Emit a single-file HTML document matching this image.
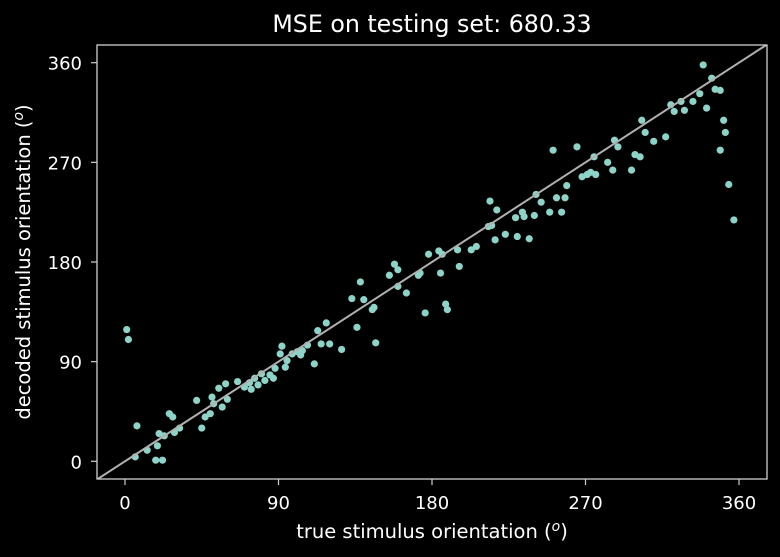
<!DOCTYPE html>
<html><head><meta charset="utf-8"><style>
html,body{margin:0;padding:0;background:#000;}
svg{display:block;font-family:"DejaVu Sans","Liberation Sans",sans-serif;}
</style></head><body>
<svg id="chart" width="780" height="557" viewBox="0 0 780 557">
<rect width="780" height="557" fill="#000"/>
<text x="432" y="32" fill="#fff" font-size="23.7" text-anchor="middle">MSE on testing set: 680.33</text>
<g id="plot"></g>
<text x="432" y="538" fill="#fff" font-size="19.5" text-anchor="middle">true stimulus orientation (<tspan font-style="italic" font-size="14" dy="-7">o</tspan><tspan dy="7">)</tspan></text>
<text transform="translate(30,262) rotate(-90)" fill="#fff" font-size="19.5" text-anchor="middle">decoded stimulus orientation (<tspan font-style="italic" font-size="14" dy="-7">o</tspan><tspan dy="7">)</tspan></text>
</svg>
<script>
const xTicks=[0,90,180,270,360];
const yTicks=[0,90,180,270,360];
const trueX=[1,2,6,7,13,18,19,22,20,23,26,28,29,32,42,45,47,50,51,52,55,57,59,60,66,70,73,74,76,78,80,82,85,87,88,91,92,94,95,98,101,103,104,107,111,113,115,118,120,127,133,136,138,140,145,146,147,155,158,160,160,165,172,173,176,178,184,185,186,188,189,195,196,203,206,213,214,215,217,218,223,229,230,233,234,237,240,241,244,249,251,253,256,258,259,265,268,271,273,275,276,283,286,287,289,297,299,302,303,305,310,317,320,322,326,328,333,337,339,341,344,346,349,349,351,352,354,357];
const decodedY=[119,110,4,32,10,1,14,1,25,23,43,40,26,30,55,30,40,43,58,52,66,49,70,56,72,67,71,65,75,69,79,73,78,75,84,97,104,85,91,97,99,96,100,105,88,118,106,125,106,101,147,121,162,146,137,139,107,168,178,173,158,152,168,170,134,187,190,170,187,142,137,191,176,191,194,212,235,213,200,227,205,220,203,225,221,201,222,241,234,225,281,238,225,238,249,284,257,259,261,275,259,270,263,290,284,263,277,275,308,297,289,293,322,316,325,317,325,332,358,319,346,336,335,281,308,297,250,218];
const L=97,R=767,T=45,B=479;
const X0=125,XS=(739-125)/360,Y0=461.3,YS=(461.3-62.7)/360;
function sx(v){return X0+v*XS;}
function sy(v){return Y0-v*YS;}
const NS='http://www.w3.org/2000/svg';
const g=document.getElementById('plot');
function mk(t,a){const e=document.createElementNS(NS,t);for(const k in a)e.setAttribute(k,a[k]);g.appendChild(e);return e;}
const defs=mk('defs',{});
const cp=document.createElementNS(NS,'clipPath');cp.setAttribute('id','clip');
const cr=document.createElementNS(NS,'rect');cr.setAttribute('x',L);cr.setAttribute('y',T);cr.setAttribute('width',R-L);cr.setAttribute('height',B-T);
cp.appendChild(cr);defs.appendChild(cp);
const pts=mk('g',{'clip-path':'url(#clip)'});


for(let i=0;i<trueX.length;i++){
 const c=document.createElementNS(NS,'circle');
 c.setAttribute('cx',sx(trueX[i]));c.setAttribute('cy',sy(decodedY[i]));c.setAttribute('r',3.6);c.setAttribute('fill','#8dd3c7');
 
 
 pts.appendChild(c);
}
const lo=-20,hi=400;
const diag=mk('line',{x1:sx(lo),y1:sy(lo),x2:sx(hi),y2:sy(hi),stroke:'#b0b0b0','stroke-width':2,'clip-path':'url(#clip)'});


const frame=mk('rect',{x:L,y:T,width:R-L,height:B-T,fill:'none',stroke:'#d0d0d0','stroke-width':1.3});


xTicks.forEach(v=>{
 const t=mk('line',{x1:sx(v),x2:sx(v),y1:B,y2:B+6,stroke:'#d0d0d0','stroke-width':1.2});
 
 
 const l=mk('text',{x:sx(v),y:B+30,fill:'#fff','font-size':18,'text-anchor':'middle'});
 l.textContent=v;
 
 
});
yTicks.forEach(v=>{
 const t=mk('line',{x1:L-6,x2:L,y1:sy(v),y2:sy(v),stroke:'#d0d0d0','stroke-width':1.2});
 
 
 const l=mk('text',{x:L-15,y:sy(v)+7,fill:'#fff','font-size':18,'text-anchor':'end'});
 l.textContent=v;
 
 
});
</script>
</body></html>
